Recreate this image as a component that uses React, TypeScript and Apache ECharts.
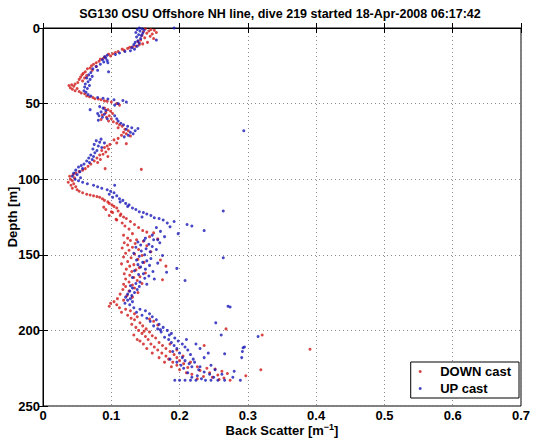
import React, { useEffect, useRef } from "react";
import * as echarts from "echarts";

const titleText = "SG130 OSU Offshore NH line, dive 219 started 18-Apr-2008 06:17:42";
const xTicks = [0, 0.1, 0.2, 0.3, 0.4, 0.5, 0.6, 0.7];
const yTicks = [0, 50, 100, 150, 200, 250];
const seriesNames = ["DOWN cast", "UP cast"];

// [back scatter, depth]
const downCast: [number, number][] = [
  [0.150,0.5],[0.158,1],[0.163,1.5],[0.155,2],[0.147,2.5],[0.166,3],[0.152,3.5],[0.160,4],[0.145,5],[0.157,5.5],[0.149,6.5],[0.162,7],[0.143,8],[0.139,9],[0.153,9.5],[0.146,10.5],[0.141,11],[0.136,12],
  [0.131,12.5],[0.124,13.5],[0.127,12.8],[0.116,14],[0.119,14.8],[0.110,15.5],[0.106,16.2],[0.102,17],[0.096,17.3],[0.099,18.5],[0.091,19],[0.088,20.2],[0.084,20.6],[0.082,22],
  [0.078,23],[0.074,24],[0.071,25],[0.078,25.5],[0.069,26.5],[0.065,27],[0.072,28],[0.062,29],[0.059,30],[0.057,31],[0.064,31.5],[0.055,32.5],[0.061,33],[0.053,34],[0.058,35],[0.051,36],
  [0.047,37],[0.042,37.5],[0.038,38],[0.045,38.5],[0.040,39.5],[0.050,40],[0.043,40.5],[0.047,41.5],[0.053,42],[0.056,43],[0.061,43.5],
  [0.064,45],[0.068,45.5],[0.073,46],[0.076,46.8],[0.081,47],[0.085,47.5],[0.090,48.2],[0.094,48.5],[0.100,49],[0.108,50],[0.112,51],
  [0.090,53],[0.095,54],[0.099,55],[0.092,56],[0.102,56.5],[0.087,57.5],[0.097,58],[0.093,59],[0.100,60],[0.085,60.5],[0.096,61.5],[0.103,62],
  [0.108,63],[0.112,64],[0.116,65],[0.110,66],[0.120,67],[0.125,68],[0.118,69],[0.122,70],[0.115,71],[0.128,71.5],
  [0.110,73],[0.104,74],[0.108,76],[0.122,76.5],[0.098,77],[0.094,78],[0.090,79],[0.096,80],[0.086,81],[0.092,82],[0.088,83.5],[0.083,84],[0.095,85],[0.079,86],[0.084,87],[0.075,88],[0.080,89],[0.070,90],
  [0.091,93],[0.144,93.5],[0.066,91.5],[0.062,93],[0.058,94],[0.053,95],[0.048,96],[0.044,97],[0.039,98],[0.046,99],[0.040,100],[0.043,101],[0.037,102],[0.045,103],[0.041,104],[0.048,105],[0.043,106],[0.050,107],[0.053,108],
  [0.058,109],[0.064,110],[0.069,110.5],[0.074,111],[0.079,111.5],[0.083,112],[0.087,113],[0.090,114],[0.095,115],[0.097,116],[0.101,117],[0.104,118],[0.108,119],[0.092,120],[0.110,121],[0.102,122],[0.114,123],[0.097,124],[0.118,125],
  [0.089,118.5],[0.100,121.5],[0.107,126.5],[0.113,124],
  [0.122,126],[0.108,127],[0.128,128],[0.116,129],[0.134,130],[0.120,131],[0.140,132],[0.126,133],[0.146,134],[0.152,135],[0.162,135.5],[0.131,136],[0.118,137],[0.156,138],[0.124,139],[0.168,139.5],[0.137,140],
  [0.128,140.5],[0.147,141],[0.119,142],[0.135,142.5],[0.124,143.5],[0.152,144],[0.131,145],[0.116,145.5],[0.140,146.5],[0.126,147],[0.158,148],[0.121,149],[0.134,149.5],[0.145,150.5],[0.118,151.5],[0.129,152],[0.139,153],[0.172,153.5],[0.124,154.5],[0.148,155],[0.115,156],[0.133,156.5],[0.127,157.5],[0.180,157.5],[0.141,158.5],[0.122,159.5],[0.136,160],[0.130,161],[0.150,162],[0.119,162.5],[0.127,163.5],[0.142,164.5],[0.133,165],[0.121,166],[0.175,166.5],[0.138,167],[0.126,168],[0.145,169],[0.118,169.5],[0.131,170],
  [0.121,171],[0.134,172],[0.117,173],[0.126,174],[0.139,175],[0.113,176],[0.123,177],[0.131,178],[0.109,179],[0.118,180],[0.104,181],[0.099,182],[0.108,183],[0.097,184],[0.112,185],[0.121,186],[0.128,187],[0.115,188],[0.134,189],[0.124,190],
  [0.138,191],[0.129,192],[0.156,192.5],[0.134,193],[0.162,194],[0.142,195],[0.130,196],[0.168,196.5],[0.146,197],[0.136,198],[0.151,199],[0.268,199],[0.140,200],[0.156,201],[0.145,202],[0.321,203],[0.160,203.5],[0.150,204],[0.165,205],[0.154,206],[0.142,207],[0.170,208],[0.158,209],[0.175,210],
  [0.148,200.5],[0.133,203],[0.138,206],[0.147,209],[0.186,209],[0.152,212],[0.196,213],[0.160,215],[0.205,217],[0.170,218],[0.178,221],[0.216,221],[0.188,224],[0.200,226],[0.210,228],
  [0.163,211],[0.180,212],[0.391,212.5],[0.168,213],[0.186,214],[0.174,215],[0.192,216],[0.180,217],[0.236,210],[0.196,218],[0.184,219],[0.200,220],[0.190,221],[0.206,222],[0.196,223],[0.226,224],[0.212,224.5],[0.240,225],[0.252,225.5],[0.319,226],[0.230,226.5],[0.262,227],[0.244,228],[0.270,228.5],[0.218,229],[0.256,229.5],[0.297,230],[0.235,230.5],[0.248,231],[0.265,231.5],[0.226,232],[0.258,232.5],[0.274,233],
];

const upCast: [number, number][] = [
  [0.141,0],[0.145,0.5],[0.138,1],[0.148,1.5],[0.192,0],[0.142,2],[0.136,3],[0.146,3.5],[0.140,4.5],[0.144,5],[0.137,6],[0.143,7],[0.166,8],[0.139,8.5],[0.135,9.5],[0.141,10],[0.133,11],[0.138,12],[0.130,13],[0.134,14],[0.128,15],
  [0.120,15.5],[0.112,16.5],[0.106,17.5],[0.094,18],[0.090,19],[0.092,20],[0.087,21],[0.094,21.5],[0.089,22.5],[0.095,23],[0.084,24],[0.096,29],
  [0.078,25.5],[0.073,27],[0.080,28],[0.070,29.5],[0.067,31],[0.072,32],[0.064,33],[0.069,34],[0.066,35.5],[0.062,37],[0.068,38],[0.061,39],[0.065,40],[0.060,41.5],[0.063,42.5],[0.066,44],[0.070,45],
  [0.080,46],[0.088,46.5],[0.095,47],[0.104,47.5],[0.117,48],[0.122,49],[0.110,50],[0.105,51],[0.069,54],[0.083,52],[0.088,53],[0.092,54.5],[0.085,55.5],[0.080,56.5],[0.090,57],[0.082,58],[0.087,59],[0.094,60],[0.081,61],[0.105,58],[0.108,60],[0.110,61.5],
  [0.114,63],[0.118,64],[0.124,65],[0.130,66],[0.122,67],[0.135,68],[0.128,69],[0.132,70],[0.125,71],[0.139,66.5],[0.119,72],[0.294,68],
  [0.085,73.5],[0.078,74.5],[0.083,75.5],[0.090,76],[0.075,77],[0.081,78],[0.086,79],[0.073,80],[0.079,81],[0.076,82.5],[0.070,84],[0.074,85],[0.067,86],[0.072,87],[0.064,88],[0.068,89],[0.060,90],
  [0.056,91],[0.052,92],[0.058,93],[0.048,94],[0.054,95],[0.045,96],[0.050,97],[0.043,98],[0.055,99],[0.047,100],[0.052,101],[0.058,102],[0.065,103],[0.074,104],[0.080,105],[0.105,104],[0.086,106],
  [0.094,107],[0.099,108],[0.104,109],[0.097,110],[0.108,111],[0.102,112],[0.112,113],[0.117,114],[0.113,115],[0.121,116],[0.126,117],[0.124,118],[0.131,119],[0.136,120],[0.264,121],[0.141,121.5],[0.147,122],[0.152,123],[0.158,124],[0.145,125],
  [0.163,125.5],[0.170,126],[0.176,127],[0.192,128],[0.182,129],[0.211,130],[0.218,131],[0.186,131.5],[0.166,132],[0.236,134],[0.172,134.5],[0.198,136],[0.160,137],[0.178,138],[0.150,139],[0.168,140],
  [0.162,140],[0.148,140.5],[0.139,141.5],[0.171,142],[0.155,143],[0.143,143.5],[0.160,144.5],[0.136,145],[0.151,146],[0.166,146.5],[0.144,147.5],[0.157,148],[0.133,149],[0.149,150],[0.175,150.5],[0.141,151],[0.264,152],[0.158,152.5],[0.137,153.5],[0.152,154],[0.146,155],[0.168,155.5],[0.139,156.5],[0.156,157],[0.143,158],[0.196,159],[0.150,159.5],[0.134,160.5],[0.161,161],[0.181,161.5],[0.147,162.5],[0.140,163],[0.155,164],[0.131,165],[0.149,165.5],[0.163,166],[0.208,167],[0.142,168],[0.136,169],[0.152,169.5],[0.128,170.5],
  [0.141,171],[0.131,172],[0.138,173],[0.127,174],[0.134,175],[0.124,176],[0.130,177],[0.121,178],[0.128,179],[0.124,180],[0.131,181],[0.120,182],[0.127,183],[0.271,184],[0.274,184.5],[0.133,185],[0.142,186],[0.150,187],[0.137,188],[0.156,189],[0.145,190],
  [0.160,191],[0.152,192],[0.166,193],[0.157,194],[0.253,195],[0.170,196],[0.162,197],[0.176,198],[0.168,199],[0.182,200],[0.173,201],[0.188,202],[0.261,203],[0.315,204],[0.178,204.5],[0.193,205],[0.184,206],[0.198,207],[0.188,208],[0.204,209],[0.192,210],
  [0.172,199.5],[0.185,203],[0.210,206],[0.224,209],[0.230,212],[0.190,214],[0.236,218],[0.186,219],[0.222,221],[0.246,223],[0.230,224],[0.252,226],[0.262,229],[0.218,231],
  [0.295,211],[0.293,211.5],[0.208,211],[0.196,212],[0.212,213],[0.292,214],[0.242,215],[0.266,215.5],[0.200,215],[0.216,216],[0.291,218],[0.204,218],[0.220,219],[0.208,220],[0.196,221],[0.214,222],[0.202,223],[0.218,224],[0.206,225],[0.228,226],[0.280,227],[0.236,227.5],[0.212,228],[0.244,229],[0.226,230],[0.278,231],[0.250,231],[0.232,232],[0.193,233],[0.200,233],[0.208,233],[0.216,233],[0.224,233],[0.238,233],[0.246,233],[0.256,233],[0.266,233],[0.289,233],
];

const FONT = "'Liberation Sans', Arial, Helvetica, sans-serif";

export default function App() {
  const ref = useRef<HTMLDivElement>(null);
  useEffect(() => {
    if (!ref.current) return;
    const chart = echarts.init(ref.current, undefined, { renderer: "svg" });
    const gridLeft = 43, gridRight = 16, gridTop = 28, gridBottom = 36;
    const plotCx = gridLeft + (537 - gridLeft - gridRight) / 2;
    const plotCy = gridTop + (442 - gridTop - gridBottom) / 2;
    const labelStyle = { color: "#000", fontFamily: FONT, fontWeight: "bold" as const, fontSize: 13 };
    const splitStyle = { show: true, lineStyle: { color: "#8a8a8a", type: [1, 3] as any, width: 1 } };
    chart.setOption({
      animation: false,
      backgroundColor: "#fff",
      grid: { left: gridLeft, right: gridRight, top: gridTop, bottom: gridBottom, show: true, borderColor: "#000", borderWidth: 1, backgroundColor: "transparent" },
      xAxis: [
        {
          type: "value", min: xTicks[0], max: xTicks[xTicks.length - 1], interval: 0.1, position: "bottom",
          axisLine: { show: true, lineStyle: { color: "#000", width: 1 } },
          axisTick: { show: true, inside: true, length: 5, lineStyle: { color: "#000" } },
          axisLabel: { ...labelStyle, margin: 3, formatter: (v: number) => (Math.round(v * 10) / 10).toString() },
          splitLine: splitStyle,
        },
        {
          type: "value", min: xTicks[0], max: xTicks[xTicks.length - 1], interval: 0.1, position: "top",
          axisLine: { show: true, lineStyle: { color: "#000", width: 1 } },
          axisTick: { show: true, inside: true, length: 5, lineStyle: { color: "#000" } },
          axisLabel: { show: false }, splitLine: { show: false },
        },
      ],
      yAxis: [
        {
          type: "value", inverse: true, min: yTicks[0], max: yTicks[yTicks.length - 1], interval: 50, position: "left",
          axisLine: { show: true, lineStyle: { color: "#000", width: 1 } },
          axisTick: { show: true, inside: true, length: 5, lineStyle: { color: "#000" } },
          axisLabel: { ...labelStyle, margin: 3 },
          splitLine: splitStyle,
        },
        {
          type: "value", inverse: true, min: yTicks[0], max: yTicks[yTicks.length - 1], interval: 50, position: "right",
          axisLine: { show: true, lineStyle: { color: "#000", width: 1 } },
          axisTick: { show: true, inside: true, length: 5, lineStyle: { color: "#000" } },
          axisLabel: { show: false }, splitLine: { show: false },
        },
      ],
      legend: {
        show: true,
        data: seriesNames,
        orient: "vertical",
        right: 537 - 519,
        top: 362,
        padding: [3, 8, 3, 8],
        itemWidth: 30,
        itemHeight: 3,
        itemGap: 4,
        icon: "circle",
        borderColor: "#000",
        borderWidth: 1,
        backgroundColor: "#fff",
        textStyle: { color: "#000", fontFamily: FONT, fontWeight: "bold", fontSize: 13 },
      },
      graphic: [
        {
          type: "text", x: plotCx - 2, y: 14,
          style: { text: titleText, fill: "#000", font: `bold 12.5px ${FONT}`, textAlign: "center", textVerticalAlign: "middle" },
        },
        {
          type: "text", x: plotCx, y: 430,
          style: {
            text: "{n|Back Scatter [m}{s|−1}{n|]}",
            textAlign: "center", textVerticalAlign: "middle",
            rich: {
              n: { fill: "#000", fontFamily: FONT, fontWeight: "bold", fontSize: 13 },
              s: { fill: "#000", fontFamily: FONT, fontWeight: "bold", fontSize: 9, padding: [0, 0, 7, 0] },
            },
          },
        },
        {
          type: "text", x: 12, y: plotCy, rotation: Math.PI / 2,
          style: { text: "Depth [m]", fill: "#000", font: `bold 13px ${FONT}`, textAlign: "center", textVerticalAlign: "middle" },
        },
      ],
      series: [
        {
          name: seriesNames[0], type: "scatter", xAxisIndex: 0, yAxisIndex: 0,
          data: downCast, symbol: "circle", symbolSize: 3,
          itemStyle: { color: "#d01818" },
        },
        {
          name: seriesNames[1], type: "scatter", xAxisIndex: 0, yAxisIndex: 0,
          data: upCast, symbol: "circle", symbolSize: 3,
          itemStyle: { color: "#1818b8" },
        },
      ],
    });
    return () => chart.dispose();
  }, []);
  return <div ref={ref} style={{ position: "fixed", left: 0, top: 0, width: 537, height: 442, background: "#fff" }} />;
}
